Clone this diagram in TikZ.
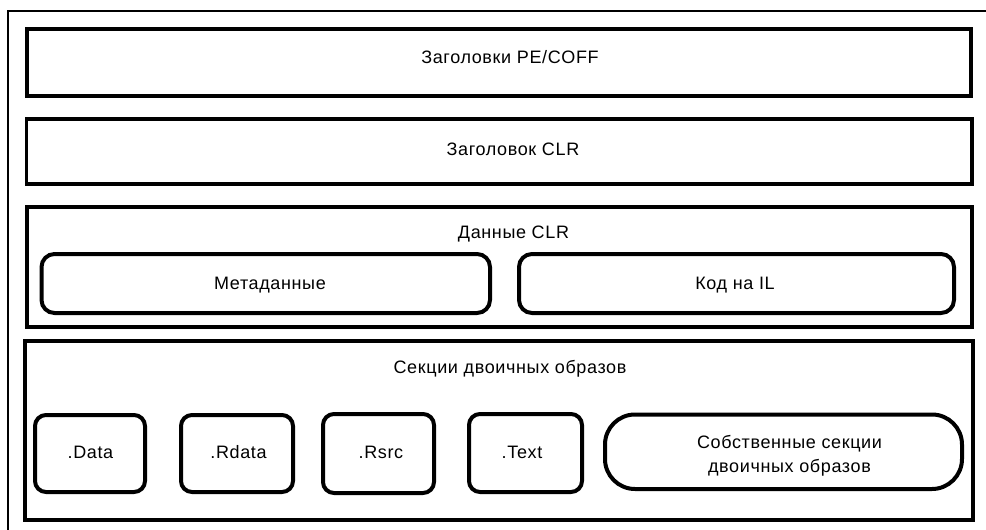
\documentclass[tikz,border=0pt]{standalone}
\usepackage{fontspec}
\setmainfont{Liberation Sans}
\newfontfamily\lblfont[LetterSpace=3.5]{Liberation Sans}
\begin{document}
\begin{tikzpicture}[x=1pt,y=-1pt,
  frame/.style={draw=black,line width=4pt},
  inner/.style={draw=black,line width=4pt,rounded corners=11pt},
  lbl/.style={font=\lblfont\fontsize{18}{24}\selectfont,anchor=base,inner sep=0pt}]
\useasboundingbox (0,0) rectangle (986,530);
\clip (0,0) rectangle (986,530);
\fill[white] (0,0) rectangle (986,530);
% outer frame (only left and top sides visible)
\draw[line width=2.5pt] (8,600) -- (8,11) -- (1000,11);
% main layers
\draw[frame] (26.5,29) rectangle (971,96);
\draw[frame,line width=3.5pt] (26.5,119) rectangle (972,184);
\draw[frame,line width=3.5pt] (27,207) rectangle (972,327);
\draw[frame] (25,341) rectangle (973,520);
% rounded boxes
\draw[inner,rounded corners=13pt] (41.5,254) rectangle (490,313);
\draw[inner,rounded corners=13pt] (519,254) rectangle (954,313);
\draw[inner] (35,415) rectangle (145,492);
\draw[inner] (181,415) rectangle (293,492);
\draw[inner] (323,414) rectangle (434,493);
\draw[inner] (469,414) rectangle (582,492);
\draw[inner,rounded corners=30pt] (605,414.5) rectangle (962,489);
% labels
\node[lbl] (t1) at (510,63.3) {Заголовки PE/COFF};
\node[lbl] (t2) at (513,155.5) {Заголовок CLR};
\node[lbl] (t3) at (513.5,238) {Данные CLR};
\node[lbl] (t4) at (270,289) {Метаданные};
\node[lbl] (t5) at (735,289) {Код на IL};
\node[lbl] (t6) at (510,373) {Секции двоичных образов};
\node[lbl] (t7) at (90.5,458) {.Data};
\node[lbl] (t8) at (238.5,458) {.Rdata};
\node[lbl] (t9) at (381,458) {.Rsrc};
\node[lbl] (t10) at (522,458) {.Text};
\node[lbl] (t11) at (789.5,448) {Собственные секции};
\node[lbl] (t12) at (789.5,472) {двоичных образов};
\end{tikzpicture}
\end{document}
